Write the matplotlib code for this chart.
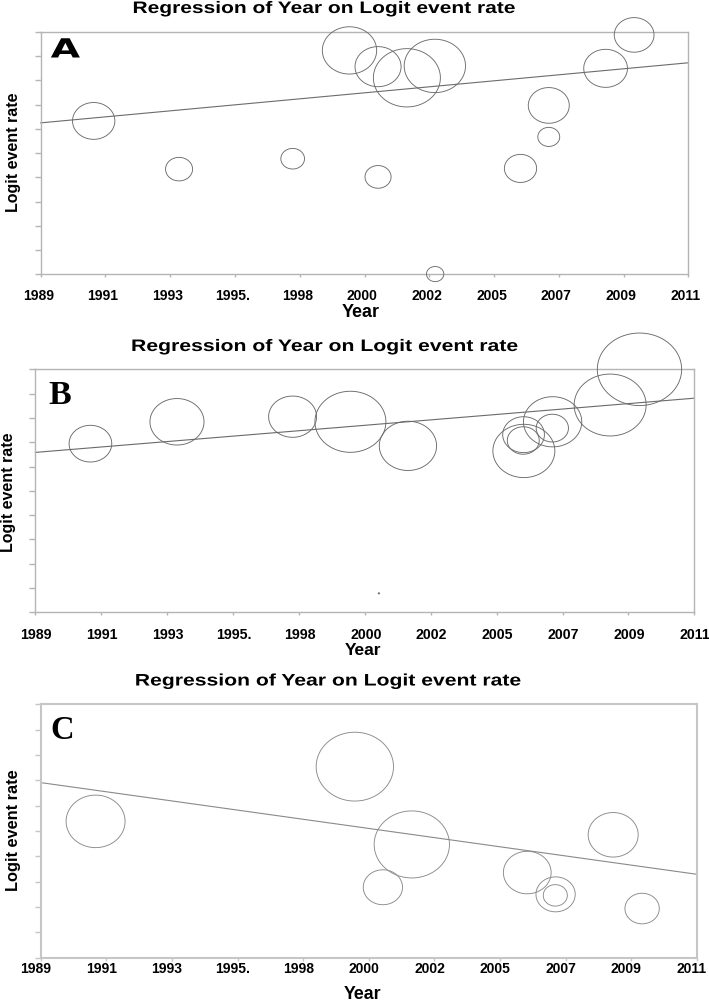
import numpy as np
import matplotlib
matplotlib.use("Agg")
import matplotlib.pyplot as plt
from matplotlib.path import Path
from matplotlib.transforms import Affine2D, ScaledTranslation
from matplotlib.patheffects import AbstractPathEffect

W, H, DPI = 709, 1001, 100

# ---------------- data ----------------
year_ticks = np.linspace(1989, 2011, 11)
year_labels = ["1989", "1991", "1993", "1995.", "1998", "2000",
               "2002", "2005", "2007", "2009", "2011"]
logit_ticks = np.arange(-10, 1, 1)
title_text = "Regression of Year on Logit event rate"

A_year = [1990.80, 1993.70, 1997.56, 1999.49, 2000.46, 2000.46, 2001.44,
          2002.39, 2002.40, 2005.30, 2006.26, 2006.26, 2008.19, 2009.16]
A_logit = [-3.67, -5.66, -5.23, -0.76, -1.43, -5.98, -1.89,
           -1.40, -9.99, -5.63, -3.03, -4.33, -1.50, -0.12]
A_weight = [17.9, 7.3, 5.6, 29.5, 21.2, 6.8, 44.9,
            37.6, 3.0, 10.4, 16.8, 4.8, 19.1, 15.8]
A_fit = (-3.75, 0.1127)   # value at 1989, slope per year

B_year = [1990.84, 1993.73, 1997.59, 1999.52, 2000.47, 2001.44, 2005.31,
          2005.30, 2005.29, 2006.27, 2006.26, 2008.19, 2009.17]
B_logit = [-3.06, -2.16, -1.95, -2.16, -9.22, -3.15, -3.36,
           -2.69, -2.93, -2.16, -2.42, -1.47, 0.00]
B_weight = [18.2, 29.2, 23.0, 50.4, 0.02, 32.8, 38.4,
            17.4, 10.2, 34.0, 10.4, 51.8, 71.1]
B_fit = (-3.42, 0.1014)

C_year = [1990.84, 1999.53, 2000.47, 2001.44, 2005.31, 2006.26, 2006.25,
          2008.19, 2009.16]
C_logit = [-4.62, -2.46, -7.22, -5.53, -6.64, -7.50, -7.54, -5.15, -8.06]
C_weight = [34.8, 59.8, 15.4, 56.7, 22.8, 15.4, 5.8, 25.0, 11.8]
C_fit = (-3.09, -0.1645)


# ---------------- helpers ----------------
class Stretch(AbstractPathEffect):
    """Render text path stretched along its baseline."""
    def __init__(self, sx=1.0, sy=1.0):
        super().__init__()
        self.sx, self.sy = sx, sy

    def draw_path(self, renderer, gc, tpath, affine, rgbFace=None):
        renderer.draw_path(gc, tpath,
                           Affine2D().scale(self.sx, self.sy) + affine,
                           rgbFace)


def fx(px):
    return px / W


def fy(py):
    return 1 - py / H


def ellipse_marker(ratio):
    t = np.linspace(0, 2 * np.pi, 121)
    verts = np.column_stack([np.cos(t), ratio * np.sin(t)])
    return Path(verts, closed=True)


panels = [
    dict(letter="A", year=A_year, logit=A_logit, weight=A_weight, fit=A_fit,
         box=(40.7, 32.0, 688.3, 274.3), ratio=0.87,
         edge="#6c6c6c", line="#6c6c6c", frame="#b4b4b4", frame_lw=1.0,
         title=(132.5, 13.0, 514.3), letter_pos=(50.7, 57.5, 29.3),
         letter_font=("DejaVu Sans", 19.0), letter_stretch=True,
         ylab=(13.7, 152.2, 11.5), xlab=(360.5, 317.0, 13.0),
         tick_fs=10.0, tick_pad=8.2, tick_dx=-2.5),
    dict(letter="B", year=B_year, logit=B_logit, weight=B_weight, fit=B_fit,
         box=(35.3, 369.3, 694.3, 612.3), ratio=0.86,
         edge="#6a6a6a", line="#6a6a6a", frame="#b4b4b4", frame_lw=1.0,
         title=(131.0, 351.0, 517.0), letter_pos=(48.3, 404.3, None),
         letter_font=("Liberation Serif", 24.5), letter_stretch=False,
         ylab=(8.8, 492.0, 11.5), xlab=(363.3, 655.0, 12.5),
         tick_fs=10.2, tick_pad=9.0, tick_dx=1.0),
    dict(letter="C", year=C_year, logit=C_logit, weight=C_weight, fit=C_fit,
         box=(40.7, 704.3, 697.0, 957.7), ratio=0.89,
         edge="#8a8a8a", line="#8a8a8a", frame="#c6c6c6", frame_lw=1.5,
         title=(134.8, 685.5, 520.0), letter_pos=(50.7, 738.6, None),
         letter_font=("Liberation Serif", 23.5), letter_stretch=False,
         ylab=(13.7, 830.5, 11.8), xlab=(362.5, 999.0, 12.8),
         tick_fs=10.0, tick_pad=1.0, tick_dx=-5.0),
]

fig = plt.figure(figsize=(W / DPI, H / DPI), dpi=DPI)
fig.patch.set_facecolor("white")

stretch_items = []   # (text, target width px)

for p in panels:
    l, t, r, b = p["box"]
    ax = fig.add_axes([fx(l), fy(b), (r - l) / W, (b - t) / H])
    ax.set_xlim(1989, 2011)
    ax.set_ylim(-10, 0)

    # regression line
    x0, slope = p["fit"]
    lx = np.array([1989.0, 2011.0])
    ax.plot(lx, x0 + slope * (lx - 1989.0), color=p["line"], lw=0.8,
            zorder=2, clip_on=False)

    # bubbles
    diam_pt = 10.0 * np.sqrt(np.array(p["weight"])) * 72.0 / DPI
    ax.scatter(p["year"], p["logit"], s=diam_pt ** 2,
               marker=ellipse_marker(p["ratio"]), facecolors="none",
               edgecolors=p["edge"], linewidths=0.65, zorder=3,
               clip_on=False)

    # axes styling
    for sp in ax.spines.values():
        sp.set_color(p["frame"])
        sp.set_linewidth(p["frame_lw"])
    ax.set_xticks(year_ticks)
    ax.set_xticklabels(year_labels, fontfamily="Liberation Sans",
                       fontweight="bold", fontsize=p["tick_fs"])
    ax.set_yticks(logit_ticks)
    ax.set_yticklabels([])
    ax.tick_params(axis="x", direction="out", length=2.2, width=1.0,
                   color=p["frame"], pad=p["tick_pad"])
    ax.tick_params(axis="y", direction="out", length=4.5, width=1.0,
                   color=p["frame"])
    shift = ScaledTranslation(p["tick_dx"] / DPI, 0, fig.dpi_scale_trans)
    for lab in ax.get_xticklabels():
        lab.set_transform(lab.get_transform() + shift)

    # axis labels
    ax.set_xlabel("Year", fontfamily="Liberation Sans", fontweight="bold",
                  fontsize=p["xlab"][2])
    ax.xaxis.set_label_coords(fx(p["xlab"][0]), fy(p["xlab"][1]),
                              transform=fig.transFigure)
    ax.xaxis.label.set_verticalalignment("baseline")
    ax.set_ylabel("Logit event rate", fontfamily="Liberation Sans",
                  fontweight="bold", fontsize=p["ylab"][2])
    ax.yaxis.set_label_coords(fx(p["ylab"][0]), fy(p["ylab"][1]),
                              transform=fig.transFigure)
    ax.yaxis.label.set_verticalalignment("center")

    # title
    tl, tb, tr = p["title"]
    tt = fig.text(fx(tl), fy(tb), title_text, ha="left", va="baseline",
                  fontfamily="Liberation Sans", fontweight="bold",
                  fontsize=12.0, color="black")
    stretch_items.append((tt, tr - tl))

    # panel letter
    lx0, lb, lw_target = p["letter_pos"]
    fam, fs = p["letter_font"]
    lt = fig.text(fx(lx0), fy(lb), p["letter"], ha="left", va="baseline",
                  fontfamily=fam, fontweight="bold", fontsize=fs,
                  color="black")
    if p["letter_stretch"]:
        stretch_items.append((lt, lw_target))

# measure natural widths and apply horizontal stretch
fig.canvas.draw()
renderer = fig.canvas.get_renderer()
for txt, target in stretch_items:
    bb = txt.get_window_extent(renderer)
    txt.set_path_effects([Stretch(sx=target / bb.width)])

fig.savefig("out.png", dpi=DPI, facecolor="white")
